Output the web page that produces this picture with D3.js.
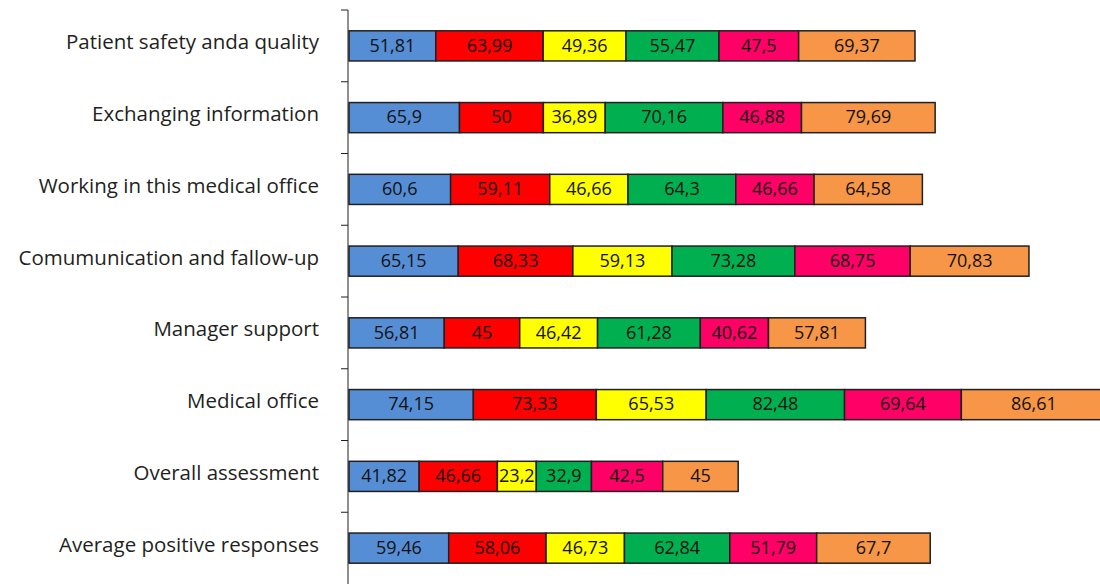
<!DOCTYPE html>
<html>
<head>
<meta charset="utf-8">
<script src="https://cdn.jsdelivr.net/npm/d3@7"></script>
<style>
  html, body { margin: 0; padding: 0; background: #fff; }
  svg { display: block; }
</style>
</head>
<body>
<svg id="chart" width="1100" height="584"></svg>
<script>
const categories = [
  "Patient safety anda quality",
  "Exchanging information",
  "Working in this medical office",
  "Comumunication and fallow-up",
  "Manager support",
  "Medical office",
  "Overall assessment",
  "Average positive responses"
];
const seriesNames = ["S1", "S2", "S3", "S4", "S5", "S6"];
const s1 = [51.81, 65.9, 60.6, 65.15, 56.81, 74.15, 41.82, 59.46];
const s2 = [63.99, 50, 59.11, 68.33, 45, 73.33, 46.66, 58.06];
const s3 = [49.36, 36.89, 46.66, 59.13, 46.42, 65.53, 23.2, 46.73];
const s4 = [55.47, 70.16, 64.3, 73.28, 61.28, 82.48, 32.9, 62.84];
const s5 = [47.5, 46.88, 46.66, 68.75, 40.62, 69.64, 42.5, 51.79];
const s6 = [69.37, 79.69, 64.58, 70.83, 57.81, 86.61, 45, 67.7];
const colors = ["#558ED5", "#FF0000", "#FFFF00", "#00B050", "#FF0066", "#F79646"];

const seriesValues = [s1, s2, s3, s4, s5, s6];
const rows = categories.map((c, i) => {
  const r = { category: c };
  seriesNames.forEach((s, j) => r[s] = seriesValues[j][i]);
  return r;
});

const svg = d3.select("#chart");
const x = d3.scaleLinear().domain([0, 500]).range([349, 349 + 500 * 1.677]);
const y = d3.scaleBand().domain(categories).range([10, 584]).paddingInner(0.58).paddingOuter(0.29);

const stacked = d3.stack().keys(seriesNames)(rows);

const fmt = v => String(v).replace(".", ",");

const layers = svg.append("g").selectAll("g")
  .data(stacked).join("g")
  .attr("fill", (d, i) => colors[i]);

layers.selectAll("rect")
  .data(d => d)
  .join("rect")
  .attr("x", d => x(d[0]))
  .attr("y", d => y(d.data.category))
  .attr("width", d => x(d[1]) - x(d[0]))
  .attr("height", y.bandwidth())
  .attr("stroke", "#231f20")
  .attr("stroke-width", 1.5);

layers.selectAll("text")
  .data(d => d.map(p => ({ p, key: d.key })))
  .join("text")
  .attr("x", d => (x(d.p[0]) + x(d.p[1])) / 2)
  .attr("y", d => y(d.p.data.category) + y.bandwidth() / 2 + 1)
  .attr("text-anchor", "middle")
  .attr("dominant-baseline", "middle")
  .attr("fill", "#111")
  .attr("font-family", "'Open Sans', sans-serif")
  .attr("font-size", 18)
  .text(d => fmt(d.p.data[d.key]));

// axis
const axisG = svg.append("g").attr("transform", "translate(348,0)");
axisG.append("line").attr("x1", 0).attr("x2", 0).attr("y1", 10).attr("y2", 584)
  .attr("stroke", "#231f20").attr("stroke-width", 1);
const step = y.step();
const boundaries = d3.range(categories.length).map(i => y(categories[i]) - y.paddingOuter() * step);
axisG.selectAll("line.tick").data(boundaries).join("line")
  .attr("class", "tick")
  .attr("x1", -7).attr("x2", 0)
  .attr("y1", d => d).attr("y2", d => d)
  .attr("stroke", "#231f20").attr("stroke-width", 1);

svg.append("g").selectAll("text")
  .data(categories).join("text")
  .attr("x", 319)
  .attr("y", d => y(d) + y.bandwidth() / 2 - 2)
  .attr("text-anchor", "end")
  .attr("dominant-baseline", "middle")
  .attr("fill", "#231f20")
  .attr("font-family", "'Open Sans', sans-serif")
  .attr("font-size", 20.5)
  .text(d => d);
</script>
</body>
</html>
